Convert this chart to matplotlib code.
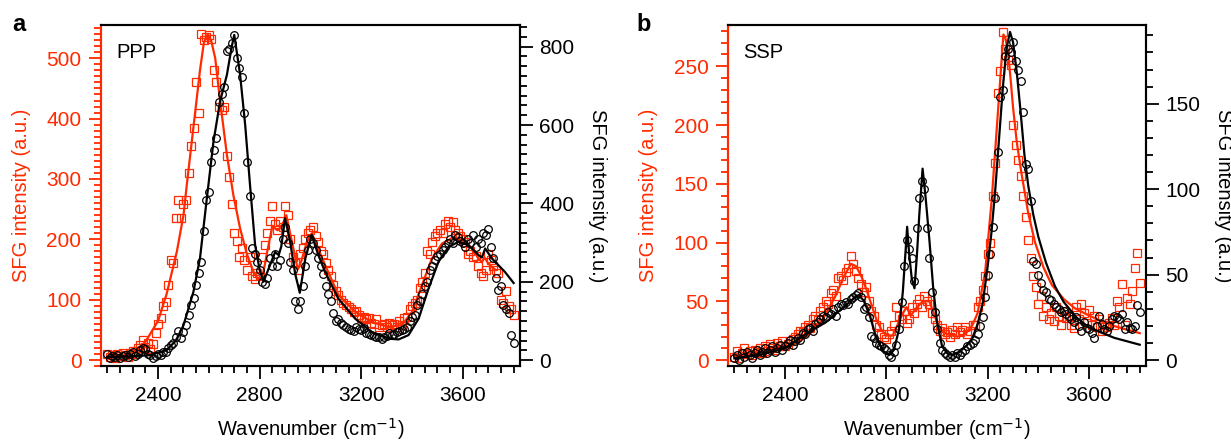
import numpy as np
import matplotlib.pyplot as plt
from matplotlib.ticker import MultipleLocator

plt.rcParams['font.family'] = ['Liberation Sans', 'DejaVu Sans']
plt.rcParams['font.size'] = 14.5

RED = '#ff2a00'

# wavenumber grid of the measured points (cm-1)
wn = np.arange(2200, 3801, 10)

# ---- panel a (PPP) measured points ----
ppp_red_pts = [
    10, 5, 8, 3, 10, 6, 12, 8, 5, 12,
    15, 10, 20, 25, 33, 22, 28, 18, 26, 45,
    60, 70, 90, 97, 125, 165, 160, 235, 265, 235,
    258, 265, 310, 355, 385, 460, 410, 540, 530, 535,
    538, 532, 480, 460, 420, 415, 420, 338, 303, 258,
    210, 197, 170, 185, 165, 150, 170, 140, 135, 145,
    140, 170, 190, 210, 230, 255, 225, 215, 230, 220,
    255, 240, 200, 170, 160, 150, 175, 185, 200, 210,
    215, 220, 205, 195, 180, 175, 160, 150, 140, 125,
    115, 108, 100, 95, 92, 88, 85, 80, 82, 75,
    70, 72, 68, 70, 62, 60, 68, 55, 58, 60,
    55, 62, 58, 60, 55, 65, 58, 70, 72, 85,
    90, 95, 100, 120, 130, 145, 180, 175, 195, 205,
    210, 215, 210, 225, 230, 220, 228, 215, 210, 205,
    200, 195, 175, 180, 170, 172, 155, 145, 140, 150,
    175, 165, 155, 150, 145, 100, 95, 115, 90, 85,
    75]
ppp_blk_pts = [
    15, 5, 10, 8, 12, 5, 10, 12, 8, 15,
    20, 10, 15, 25, 30, 28, 15, 12, 5, 10,
    15, 12, 20, 22, 30, 38, 45, 60, 75, 56,
    72, 89, 115, 140, 158, 191, 222, 251, 330, 408,
    430, 506, 536, 566, 660, 680, 698, 790, 795, 810,
    830, 770, 745, 723, 630, 506, 420, 285, 270, 250,
    230, 200, 195, 210, 260, 240, 270, 240, 255, 310,
    340, 300, 250, 230, 150, 130, 150, 190, 240, 280,
    310, 300, 280, 260, 240, 220, 190, 170, 150, 120,
    100, 105, 95, 90, 85, 80, 78, 75, 85, 80,
    78, 82, 70, 68, 65, 62, 60, 58, 55, 60,
    62, 70, 65, 68, 72, 75, 78, 80, 85, 100,
    110, 115, 140, 150, 170, 190, 200, 230, 240, 255,
    265, 270, 280, 290, 300, 310, 300, 320, 315, 305,
    300, 290, 310, 300, 320, 290, 310, 300, 325, 320,
    335, 290, 260, 210, 180, 190, 140, 130, 120, 65,
    45]

# panel a fits
ppp_red_fit_x = [2200, 2250, 2300, 2350, 2400, 2434, 2474, 2500, 2513, 2539, 2565, 2580,
                 2595, 2610, 2625, 2644, 2671, 2697, 2723, 2750, 2776, 2795, 2810, 2830,
                 2850, 2870, 2885, 2905, 2925, 2950, 2965, 2985, 3005, 3020, 3058, 3110,
                 3176, 3242, 3307, 3360, 3400, 3439, 3478, 3518, 3557, 3597, 3636, 3662,
                 3675, 3685, 3700, 3727]
ppp_red_fit = [5, 6, 12, 30, 65, 110, 180, 240, 290, 385, 480, 525,
               540, 528, 500, 430, 340, 272, 218, 175, 146, 133, 135, 180,
               222, 215, 220, 240, 200, 150, 165, 195, 210, 195, 157, 108,
               80, 63, 55, 58, 80, 124, 168, 193, 202, 199, 185, 168,
               162, 170, 160, 150]
ppp_blk_fit_x = [2200, 2300, 2368, 2434, 2470, 2500, 2539, 2565, 2592, 2618, 2644, 2671,
                 2690, 2700, 2723, 2743, 2762, 2782, 2800, 2815, 2841, 2861, 2875, 2885,
                 2900, 2920, 2940, 2958, 2980, 3005, 3030, 3058, 3110, 3176, 3242, 3307,
                 3347, 3386, 3426, 3465, 3504, 3544, 3583, 3622, 3662, 3675, 3688, 3714,
                 3766, 3800]
ppp_blk_fit = [8, 10, 13, 26, 50, 89, 174, 260, 413, 557, 660, 728,
               800, 830, 728, 600, 447, 294, 230, 200, 243, 276, 268, 290,
               362, 302, 220, 172, 260, 320, 270, 225, 157, 106, 72, 55,
               53, 64, 106, 183, 251, 289, 302, 294, 268, 262, 285, 260,
               225, 197]

# ---- panel b (SSP) measured points ----
ssp_red_pts = [
    3, 8, 2, 6, 10, 5, 8, 4, 9, 7,
    10, 6, 12, 8, 14, 10, 9, 15, 12, 16,
    12, 14, 16, 18, 20, 22, 25, 24, 28, 30,
    27, 35, 38, 34, 42, 45, 50, 48, 57, 60,
    55, 70, 72, 68, 75, 78, 89, 82, 76, 70,
    65, 58, 62, 50, 42, 38, 30, 28, 22, 20,
    18, 22, 25, 30, 45, 38, 35, 42, 32, 35,
    45, 40, 48, 52, 45, 55, 50, 48, 40, 35,
    30, 25, 27, 22, 24, 20, 26, 22, 28, 24,
    26, 28, 22, 25, 30, 30, 45, 50, 60, 72,
    90, 100, 140, 168, 227, 246, 279, 265, 255, 251,
    200, 183, 170, 157, 140, 122, 102, 87, 72, 62,
    48, 55, 38, 45, 35, 40, 33, 45, 38, 30,
    42, 36, 38, 30, 27, 45, 35, 48, 40, 32,
    43, 30, 38, 28, 35, 25, 30, 28, 32, 36,
    30, 50, 45, 65, 30, 53, 48, 59, 78, 91,
    66]
ssp_blk_pts = [
    1, 3, 0, 4, 2, 5, 3, 1, 4, 6,
    3, 5, 7, 4, 6, 8, 5, 7, 9, 6,
    8, 10, 12, 9, 11, 13, 12, 16, 15, 18,
    19, 17, 21, 22, 24, 26, 25, 28, 27, 30,
    26, 31, 33, 32, 34, 33, 36, 37, 38, 39,
    37, 30, 31, 25, 14, 13, 10, 9, 8, 7,
    6, 3, 2, 5, 9, 18, 34, 55, 70, 65,
    60, 46, 77, 95, 105, 100, 77, 60, 40, 28,
    18, 10, 6, 4, 3, 2, 3, 2, 4, 3,
    5, 6, 8, 9, 10, 12, 15, 20, 25, 37,
    50, 62, 78, 95, 122, 154, 158, 178, 182, 180,
    186, 175, 170, 163, 145, 115, 112, 93, 58, 56,
    50, 45, 41, 40, 36, 35, 33, 31, 30, 28,
    29, 27, 26, 24, 22, 25, 20, 17, 22, 19,
    18, 16, 13, 20, 26, 21, 18, 17, 20, 24,
    26, 25, 24, 27, 18, 22, 19, 18, 20, 32,
    28]

# panel b fits
ssp_red_fit_x = [2200, 2300, 2400, 2450, 2500, 2550, 2600, 2630, 2660, 2680, 2700, 2720,
                 2740, 2760, 2780, 2800, 2825, 2850, 2865, 2880, 2897, 2920, 2945, 2970,
                 2990, 3010, 3040, 3080, 3110, 3140, 3160, 3190, 3216, 3240, 3262, 3270,
                 3280, 3290, 3300, 3315, 3334, 3360, 3387, 3420, 3453, 3500, 3545, 3600,
                 3650, 3700, 3750, 3800]
ssp_red_fit = [3, 7, 11, 15, 23, 35, 55, 70, 82, 80, 72, 61,
               48, 35, 26, 21, 21, 33, 40, 45, 38, 45, 50, 50,
               38, 27, 22, 20, 22, 30, 40, 75, 137, 210, 277, 274,
               262, 240, 215, 185, 158, 125, 100, 79, 64, 52, 44, 38,
               33, 29, 26, 23]
ssp_blk_fit_x = [2200, 2300, 2400, 2450, 2500, 2560, 2600, 2640, 2670, 2690, 2710, 2735,
                 2760, 2790, 2812, 2830, 2850, 2865, 2875, 2882, 2890, 2900, 2911, 2920,
                 2930, 2943, 2955, 2970, 2985, 3000, 3020, 3040, 3060, 3090, 3120, 3140,
                 3160, 3180, 3200, 3215, 3230, 3245, 3260, 3275, 3288, 3300, 3315, 3330,
                 3345, 3360, 3380, 3400, 3430, 3466, 3500, 3550, 3600, 3650, 3700, 3750,
                 3800]
ssp_blk_fit = [1, 3, 7, 12, 17, 22, 27, 32, 36, 38, 35, 26,
               13, 5, 3, 6, 18, 40, 62, 78, 62, 48, 42, 60,
               85, 112, 95, 70, 42, 22, 8, 4, 3, 5, 9, 13,
               21, 33, 55, 75, 100, 130, 160, 183, 192, 186, 168, 145,
               120, 102, 85, 72, 57, 43, 34, 25, 19, 16, 13, 11,
               9]


def panel(rect, letter, pol, red_pts, red_fx, red_fit, blk_pts, blk_fx, blk_fit,
          red_lim, red_major, red_minor, blk_lim, blk_major, blk_minor, letter_x):
    ax = fig.add_axes(rect)
    ax2 = ax.twinx()

    ax.plot(wn, red_pts, ls='none', marker='s', ms=5.5, mfc='none', mec=RED, mew=0.9)
    ax.plot(red_fx, red_fit, color=RED, lw=1.6)
    ax2.plot(wn, blk_pts, ls='none', marker='o', ms=5.5, mfc='none', mec='black', mew=0.9)
    ax2.plot(blk_fx, blk_fit, color='black', lw=1.6)

    ax.set_xlim(2175, 3825)
    ax.set_ylim(*red_lim)
    ax2.set_ylim(*blk_lim)

    ax.xaxis.set_major_locator(MultipleLocator(400))
    ax.xaxis.set_minor_locator(MultipleLocator(50))
    ax.yaxis.set_major_locator(MultipleLocator(red_major))
    ax.yaxis.set_minor_locator(MultipleLocator(red_minor))
    ax2.yaxis.set_major_locator(MultipleLocator(blk_major))
    ax2.yaxis.set_minor_locator(MultipleLocator(blk_minor))

    for a in (ax, ax2):
        for s in a.spines.values():
            s.set_linewidth(1.5)
        a.spines['left'].set_color(RED)
        a.tick_params(which='major', direction='out', length=9, width=1.3, pad=5,
                      labelsize=15)
        a.tick_params(which='minor', direction='out', length=5, width=1.3)
    ax.tick_params(axis='y', which='both', colors=RED, labelcolor=RED)
    ax2.tick_params(axis='y', which='both', colors='black', labelcolor='black')

    ax.text(0.036, 0.92, pol, transform=ax.transAxes, ha='left', va='center')
    ax.text(-0.19, 0.5, 'SFG intensity (a.u.)', transform=ax.transAxes, rotation=90,
            ha='center', va='center', color=RED)
    ax2.text(1.185, 0.5, 'SFG intensity (a.u.)', transform=ax.transAxes, rotation=-90,
             ha='center', va='center', color='black')
    ax.text(0.5, -0.185, 'Wavenumber (cm$^{-1}$)', transform=ax.transAxes,
            ha='center', va='center')
    fig.text(letter_x, 0.945, letter, fontsize=17, fontweight='bold', ha='left', va='center')


fig = plt.figure(figsize=(12.31, 4.4), dpi=100)

panel([0.082, 0.168, 0.3404, 0.775], 'a', 'PPP', ppp_red_pts, ppp_red_fit_x, ppp_red_fit,
      ppp_blk_pts, ppp_blk_fit_x, ppp_blk_fit,
      (-10, 555), 100, 10, (-15, 855), 200, 25, 0.010)
panel([0.5914, 0.168, 0.3396, 0.775], 'b', 'SSP', ssp_red_pts, ssp_red_fit_x, ssp_red_fit,
      ssp_blk_pts, ssp_blk_fit_x, ssp_blk_fit,
      (-5, 285), 50, 10, (-3.5, 196), 50, 10, 0.517)

fig.savefig('out.png', dpi=100)
